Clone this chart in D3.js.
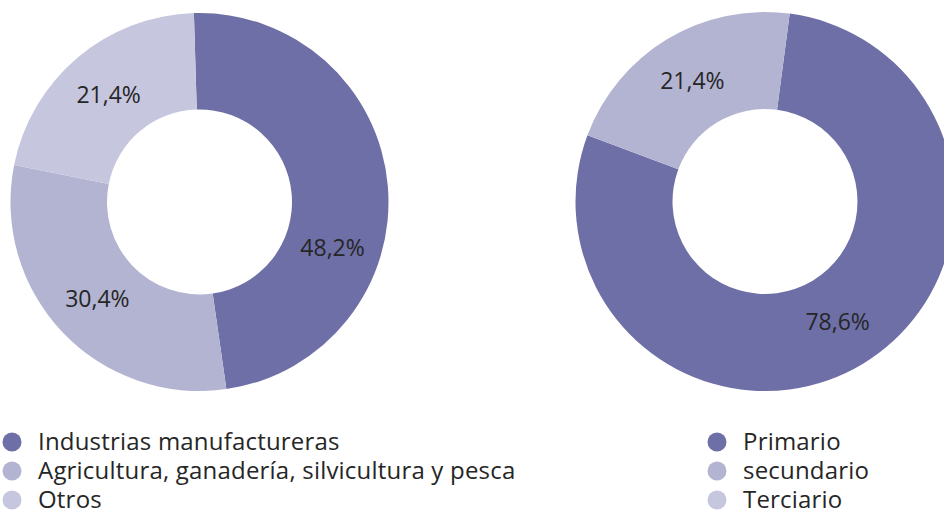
<!DOCTYPE html>
<html>
<head>
<meta charset="utf-8">
<script src="https://cdn.jsdelivr.net/npm/d3@7"></script>
<style>
  body { margin: 0; background: #fff; }
  svg text { font-family: "Open Sans", sans-serif; fill: #262626; }
</style>
</head>
<body>
<svg id="drawing_region"></svg>
<script>
// left chart
const leftCategories = ['Industrias manufactureras', 'Agricultura, ganadería, silvicultura y pesca', 'Otros'];
const leftValues = [48.2, 30.4, 21.4];
// right chart
const rightCategories = ['Primario', 'secundario', 'Terciario'];
const rightValues = [78.6, 21.4, 0];

const colors = ['#6d6fa6', '#b3b4d1', '#c6c6de'];

const fmt = v => d3.format('.1f')(v).replace('.', ',') + '%';

class DonutChart {
  constructor(config, categories, values) {
    this.config = config;
    this.categories = categories;
    this.values = values;
    this.init();
  }
  init() {
    let self = this;
    self.chart = d3.select(self.config.parent).append('g')
        .attr('transform', `translate(${self.config.cx}, ${self.config.cy})`);
    self.pie = d3.pie().sort(null)
        .startAngle(self.config.start * Math.PI / 180)
        .endAngle(self.config.start * Math.PI / 180 + 2 * Math.PI);
    self.arc = d3.arc().innerRadius(self.config.inner).outerRadius(self.config.outer);
    self.color = d3.scaleOrdinal().domain(self.categories).range(colors);
    self.render();
  }
  render() {
    let self = this;
    const arcs = self.pie(self.values);
    self.chart.selectAll('path')
        .data(arcs)
        .join('path')
        .attr('d', self.arc)
        .attr('fill', (d, i) => self.color(self.categories[i]));

    self.chart.selectAll('text.lbl')
        .data(arcs.filter(d => d.value > 0))
        .join('text')
        .attr('class', 'lbl')
        .attr('transform', d => {
          const nudge = (self.config.nudge[d.index] || 0) * Math.PI / 180;
          const a = (d.startAngle + d.endAngle) / 2 + nudge;
          const c = self.arc.centroid({startAngle: a, endAngle: a});
          return `translate(${c[0]}, ${c[1]})`;
        })
        .attr('text-anchor', 'middle')
        .attr('dy', '0.35em')
        .style('font-size', '23px')
        .text(d => fmt(d.value));

    const legend = d3.select(self.config.parent).append('g')
        .attr('transform', `translate(${self.config.legendX}, 442)`);
    const rows = legend.selectAll('g')
        .data(self.categories)
        .join('g')
        .attr('transform', (d, i) => `translate(0, ${i * 29})`);
    rows.append('circle')
        .attr('r', 9.5)
        .attr('fill', d => self.color(d));
    rows.append('text')
        .attr('x', 26)
        .attr('dy', '0.34em')
        .style('font-size', '24px')
        .style('letter-spacing', '0.2px')
        .text(d => d);
  }
}

d3.select('#drawing_region').attr('width', 944).attr('height', 512);

new DonutChart({parent: '#drawing_region', cx: 199.5, cy: 202, outer: 189, inner: 92.5,
  start: -1.7, nudge: [24, 0, 0], legendX: 12}, leftCategories, leftValues);
new DonutChart({parent: '#drawing_region', cx: 765, cy: 201.5, outer: 189.5, inner: 92.5,
  start: 7.5, nudge: [0, 0, 0], legendX: 717}, rightCategories, rightValues);
</script>
</body>
</html>
